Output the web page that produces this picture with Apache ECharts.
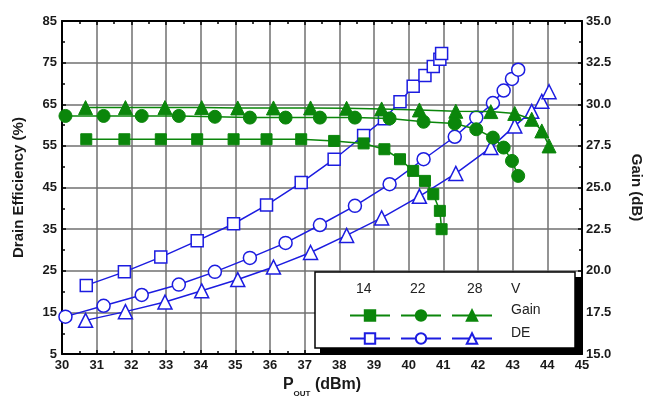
<!DOCTYPE html>
<html><head><meta charset="utf-8">
<script src="https://cdn.jsdelivr.net/npm/echarts@6/dist/echarts.min.js"></script>
<style>html,body{margin:0;padding:0;background:#fff}#c{width:654px;height:403px}</style>
</head><body><div id="c"></div>
<script>
// 14 V
var x14 = [30.7, 31.8, 32.85, 33.9, 34.95, 35.9, 36.9, 37.85, 38.7, 39.3, 39.75, 40.13, 40.47, 40.71, 40.9, 40.95];
var gain14 = [27.9, 27.9, 27.9, 27.9, 27.9, 27.9, 27.9, 27.8, 27.65, 27.3, 26.7, 26.0, 25.4, 24.6, 23.6, 22.5];
var de14 = [21.5, 24.75, 28.3, 32.2, 36.3, 40.8, 46.2, 51.8, 57.5, 61.5, 65.6, 69.3, 71.9, 74.1, 75.8, 77.2];
// 22 V
var x22 = [30.1, 31.2, 32.3, 33.37, 34.41, 35.42, 36.45, 37.44, 38.45, 39.45, 40.43, 41.33, 41.95, 42.43, 42.74, 42.98, 43.16];
var gain22 = [29.3, 29.3, 29.3, 29.3, 29.25, 29.2, 29.2, 29.2, 29.2, 29.15, 28.95, 28.85, 28.5, 28.0, 27.4, 26.6, 25.7];
var de22 = [14.0, 16.6, 19.2, 21.7, 24.75, 28.1, 31.7, 36.0, 40.6, 45.8, 51.8, 57.2, 61.8, 65.3, 68.3, 71.1, 73.3];
// 28 V
var x28 = [30.68, 31.83, 32.97, 34.03, 35.07, 36.1, 37.17, 38.21, 39.22, 40.31, 41.36, 42.37, 43.06, 43.55, 43.84, 44.05];
var gain28 = [29.8, 29.8, 29.8, 29.8, 29.78, 29.78, 29.78, 29.76, 29.72, 29.66, 29.58, 29.56, 29.45, 29.1, 28.4, 27.5];
var de28 = [13.1, 15.2, 17.5, 20.2, 22.9, 25.9, 29.4, 33.5, 37.7, 42.9, 48.4, 54.6, 59.8, 63.3, 65.7, 68.0];

var voltages = ['14', '22', '28'];
var legendHeader = ['14', '22', '28', 'V'];
var rowLabels = ['Gain', 'DE'];

var GREEN = '#0b860b', BLUE = '#1c1ce0';
var FONT = 'Liberation Sans, Arial, sans-serif';

function pairs(xs, ys) { return xs.map(function (x, i) { return [x, ys[i]]; }); }

function gainSeries(name, xs, ys, sym, size) {
  return {
    name: name, type: 'line', xAxisIndex: 0, yAxisIndex: 1, data: pairs(xs, ys),
    symbol: sym, symbolSize: size, showSymbol: true,
    lineStyle: { color: GREEN, width: 1.5 },
    itemStyle: { color: GREEN, borderColor: GREEN, borderWidth: 1 },
    z: 3, animation: false
  };
}
function deSeries(name, xs, ys, sym, size) {
  return {
    name: name, type: 'line', xAxisIndex: 0, yAxisIndex: 0, data: pairs(xs, ys),
    symbol: sym, symbolSize: size, showSymbol: true,
    lineStyle: { color: BLUE, width: 1.5 },
    itemStyle: { color: '#fff', borderColor: BLUE, borderWidth: 1.5 },
    z: 2, animation: false
  };
}

var chart = echarts.init(document.getElementById('c'), null, { renderer: 'canvas' });
var tickLabel = { fontFamily: FONT, fontWeight: 'bold', fontSize: 13, color: '#1a1a1a' };
var axisCommon = {
  axisLine: { show: true, onZero: false, lineStyle: { color: '#000', width: 2 } },
  axisTick: { show: true, inside: true, length: 4, lineStyle: { color: '#000', width: 1.5 } },
  minorTick: { show: true, splitNumber: 2, length: 3, lineStyle: { color: '#000', width: 1.5 } }
};

var option = {
  backgroundColor: '#fff',
  animation: false,
  grid: { left: 62, right: 72, top: 21, bottom: 47, show: false },
  xAxis: [Object.assign({
    type: 'value', min: 30, max: 45, interval: 1, position: 'bottom',
    splitLine: { show: true, lineStyle: { color: '#707070', width: 1.5 } },
    axisLabel: Object.assign({ margin: 5 }, tickLabel),
    name: '{a|P}{b|OUT}{a| (dBm)}', nameLocation: 'middle', nameGap: 20,
    nameTextStyle: {
      rich: {
        a: { fontFamily: FONT, fontWeight: 'bold', fontSize: 16, color: '#1a1a1a', lineHeight: 18, verticalAlign: 'top' },
        b: { fontFamily: FONT, fontWeight: 'bold', fontSize: 8, color: '#1a1a1a', lineHeight: 8, padding: [13, 0, 0, 0], verticalAlign: 'top' }
      }
    }
  }, axisCommon), Object.assign({
    type: 'value', min: 30, max: 45, interval: 1, position: 'top',
    splitLine: { show: false }, axisLabel: { show: false }
  }, axisCommon)],
  yAxis: [Object.assign({
    type: 'value', min: 5, max: 85, interval: 10, position: 'left',
    splitLine: { show: true, lineStyle: { color: '#707070', width: 1.5 } },
    axisLabel: Object.assign({ margin: 5 }, tickLabel),
    name: 'Drain Efficiency (%)', nameLocation: 'middle', nameGap: 36, nameRotate: 90,
    nameTextStyle: { fontFamily: FONT, fontWeight: 'bold', fontSize: 15, color: '#1a1a1a' }
  }, axisCommon), Object.assign({
    type: 'value', min: 15, max: 35, interval: 2.5, position: 'right',
    splitLine: { show: false },
    axisLabel: Object.assign({ margin: 4, formatter: function (v) { return v.toFixed(1); } }, tickLabel),
    name: 'Gain (dB)', nameLocation: 'middle', nameGap: 47, nameRotate: -90,
    nameTextStyle: { fontFamily: FONT, fontWeight: 'bold', fontSize: 15, color: '#1a1a1a' }
  }, axisCommon)],
  legend: [{
    data: voltages.map(function (v) { return v + 'V Gain'; }),
    left: 344, top: 304, itemWidth: 40, itemHeight: 13, itemGap: 9,
    formatter: function () { return ''; }, selectedMode: false, z: 6,
    textStyle: { fontSize: 1 }
  }, {
    data: voltages.map(function (v) { return v + 'V DE'; }),
    left: 344, top: 327, itemWidth: 40, itemHeight: 13, itemGap: 9,
    formatter: function () { return ''; }, selectedMode: false, z: 6,
    textStyle: { fontSize: 1 }
  }],
  graphic: [
    { type: 'rect', z: 4, shape: { x: 320, y: 277, width: 261, height: 77 }, style: { fill: '#000' } },
    { type: 'rect', z: 5, shape: { x: 315, y: 272, width: 260, height: 76 },
      style: { fill: '#fff', stroke: '#000', lineWidth: 1.5 } },
    { type: 'text', z: 6, left: 356, top: 282, style: { text: legendHeader[0], font: '14px ' + FONT, fill: '#222' } },
    { type: 'text', z: 6, left: 410, top: 282, style: { text: legendHeader[1], font: '14px ' + FONT, fill: '#222' } },
    { type: 'text', z: 6, left: 467, top: 282, style: { text: legendHeader[2], font: '14px ' + FONT, fill: '#222' } },
    { type: 'text', z: 6, left: 511, top: 282, style: { text: legendHeader[3], font: '14px ' + FONT, fill: '#222' } },
    { type: 'text', z: 6, left: 511, top: 303, style: { text: rowLabels[0], font: '14px ' + FONT, fill: '#222' } },
    { type: 'text', z: 6, left: 511, top: 326, style: { text: rowLabels[1], font: '14px ' + FONT, fill: '#222' } }
  ],
  series: [
    gainSeries('14V Gain', x14, gain14, 'rect', 11),
    gainSeries('22V Gain', x22, gain22, 'circle', 13),
    gainSeries('28V Gain', x28, gain28, 'triangle', 14),
    deSeries('14V DE', x14, de14, 'rect', 12),
    deSeries('22V DE', x22, de22, 'circle', 13),
    deSeries('28V DE', x28, de28, 'triangle', 14)
  ]
};
chart.setOption(option);
</script></body></html>
